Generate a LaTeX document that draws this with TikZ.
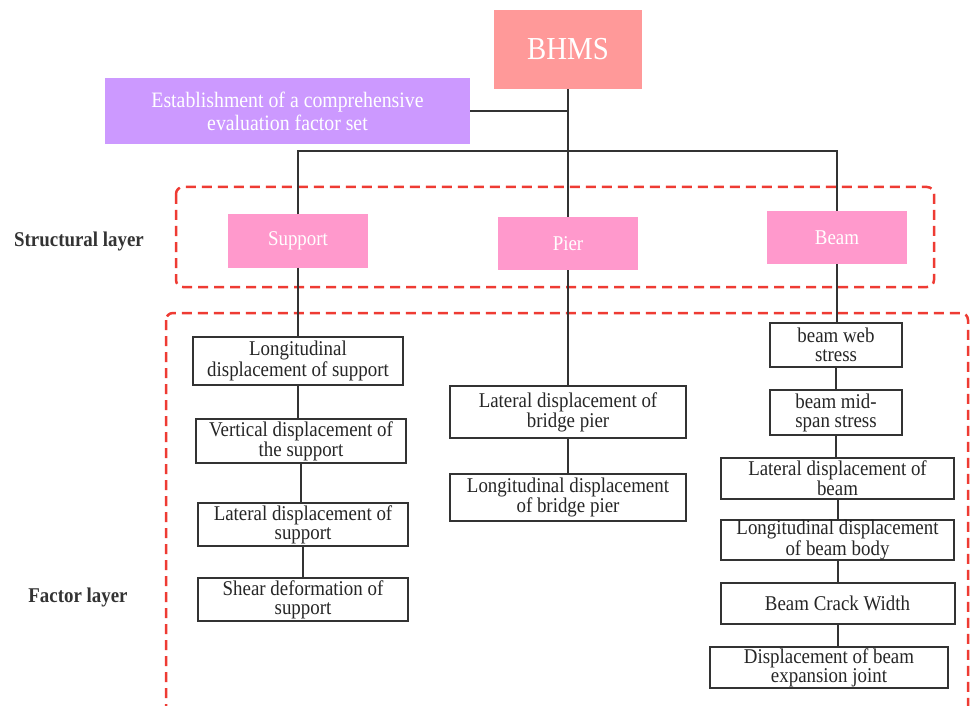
\documentclass[tikz,border=0pt]{standalone}
\usepackage{fontspec}
\setmainfont{Liberation Serif}[FakeStretch=0.9]
\usepackage{tikz}
\definecolor{topcol}{HTML}{FF9999}
\definecolor{setcol}{HTML}{CC99FF}
\definecolor{layercol}{HTML}{FF99CC}
\definecolor{dashcol}{HTML}{EE3B33}
\definecolor{linecol}{HTML}{333333}
\tikzset{
  topbox/.style={fill=topcol, text=white, inner sep=0pt, align=center,
    font=\fontsize{32}{34}\selectfont},
  setbox/.style={fill=setcol, text=white, inner sep=0pt, align=center,
    font=\fontsize{22}{23}\selectfont},
  layerbox/.style={fill=layercol, text=white, inner sep=0pt, align=center,
    minimum width=140pt, minimum height=53pt, font=\fontsize{21}{20}\selectfont},
  factor/.style={draw=linecol, line width=2pt, fill=white, text=black!85,
    inner sep=0pt, align=center, font=\fontsize{21}{19}\selectfont},
  layerlabel/.style={text=black!80, font=\fontsize{21}{20}\selectfont\bfseries},
  link/.style={draw=linecol, line width=2pt},
  zone/.style={draw=dashcol, line width=2.5pt, dash pattern=on 10pt off 6pt,
    rounded corners=7pt}
}

\begin{document}
\begin{tikzpicture}[x=1pt, y=-1pt]

\useasboundingbox (0,0) rectangle (970,706);
\clip (0,0) rectangle (970,706);

% Layer zones
\draw[zone] (176,187) rectangle (934,287);
\draw[zone] (166,313) rectangle (968,716);

\node[layerlabel] (structlbl) at (79,241) {Structural layer};
\node[layerlabel] (factlbl) at (78,597) {Factor layer};

% Top of the tree
\node[topbox, minimum width=148pt, minimum height=79pt] (bhms) at (568,49.5) {BHMS};
\node[setbox, minimum width=365pt, minimum height=66pt] (est) at (287.5,111)
  {Establishment of a comprehensive\\evaluation factor set};

% Structural layer
\node[layerbox] (support) at (298,241) {Support};
\node[layerbox] (pier) at (568,243.5) {Pier};
\node[layerbox] (beam) at (837,237.5) {Beam};

% Factors of the support
\node[factor, minimum width=210pt, minimum height=48pt] (sup1) at (298,361)
  {Longitudinal\\displacement of support};
\node[factor, minimum width=210pt, minimum height=44pt] (sup2) at (301,441)
  {Vertical displacement of\\the support};
\node[factor, minimum width=210pt, minimum height=43pt] (sup3) at (303,524.5)
  {Lateral displacement of\\support};
\node[factor, minimum width=210pt, minimum height=43pt] (sup4) at (303,599.5)
  {Shear deformation of\\support};

% Factors of the pier
\node[factor, minimum width=236pt, minimum height=52pt] (pier1) at (568,412)
  {Lateral displacement of\\bridge pier};
\node[factor, minimum width=236pt, minimum height=47pt] (pier2) at (568,497.5)
  {Longitudinal displacement\\of bridge pier};

% Factors of the beam
\node[factor, minimum width=132pt, minimum height=44pt] (bm1) at (836,345)
  {beam web\\stress};
\node[factor, minimum width=132pt, minimum height=45pt] (bm2) at (836,412.5)
  {beam mid-\\span stress};
\node[factor, minimum width=233pt, minimum height=41pt] (bm3) at (837.5,478.5)
  {Lateral displacement of\\beam};
\node[factor, minimum width=233pt, minimum height=40pt] (bm4) at (837.5,540)
  {Longitudinal displacement\\of beam body};
\node[factor, minimum width=234pt, minimum height=41pt] (bm5) at (837.5,603.5)
  {Beam Crack Width};
\node[factor, minimum width=238pt, minimum height=41pt] (bm6) at (829,667.5)
  {Displacement of beam\\expansion joint};

% Connectors
\coordinate (bar) at (568,151);
\draw[link] (bhms.south) -- (pier.north);
\draw[link] (est.east) -- (est.east -| bhms.south);
\draw[link] (support.north) |- (bar) -| (beam.north);

\foreach \a/\b in {support/sup1, sup1/sup2, sup2/sup3, sup3/sup4,
                   pier/pier1, pier1/pier2,
                   beam/bm1, bm1/bm2, bm2/bm3, bm3/bm4, bm4/bm5, bm5/bm6}
  \draw[link] (\a.south) -- (\a.south |- \b.north);

\end{tikzpicture}
\end{document}
